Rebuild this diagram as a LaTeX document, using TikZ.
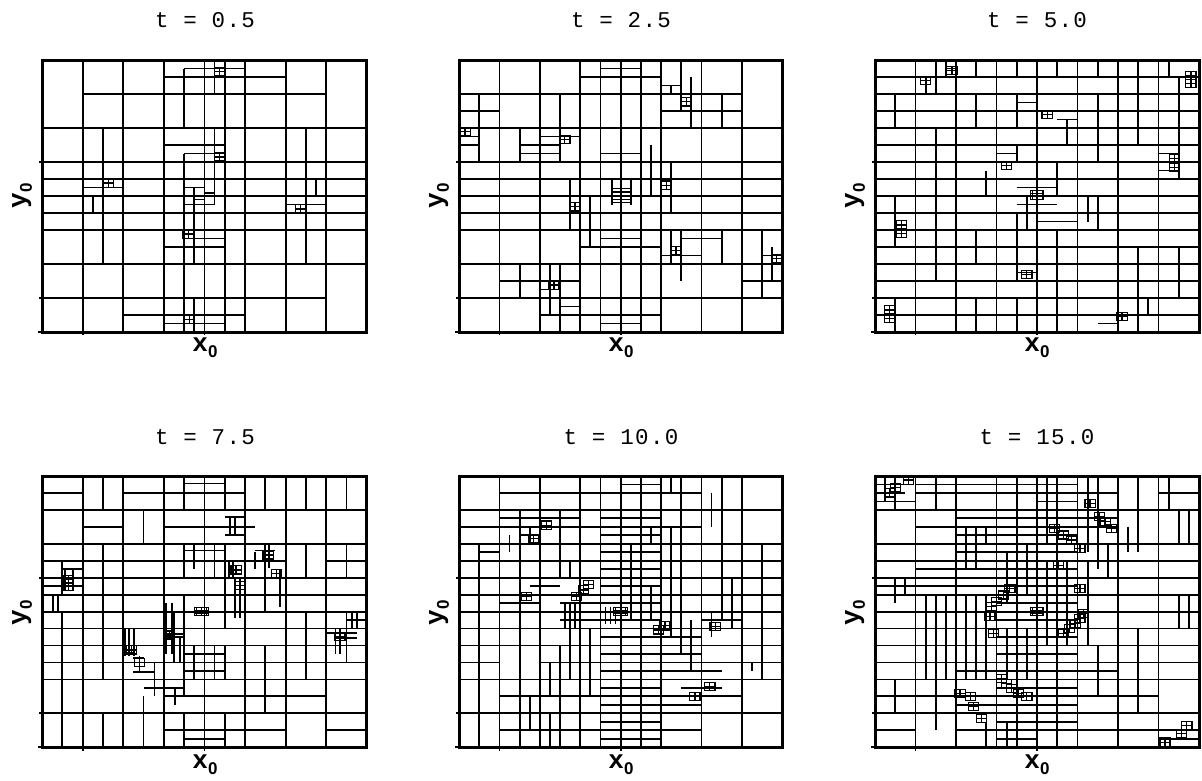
\documentclass[tikz,border=0pt]{standalone}
\usepackage{fontspec}
\newfontfamily\ttlfont[LetterSpace = 6]{Liberation Mono}
\newfontfamily\lblfont{Liberation Mono}
\newfontfamily\subfont{Liberation Sans}
% cell helpers, u to the right, v downwards (one unit = one coarse cell)
\newcommand{\hsh}[2]{\draw [line width = 1.2pt] (#1-0.125,#2-0.12) rectangle (#1+0.125,#2+0.12) (#1,#2-0.12) -- (#1,#2+0.12) (#1-0.125,#2) -- (#1+0.125,#2);}
\newcommand{\hq}[5][4]{\pgfmathtruncatemacro\nq{round((#5-(#4))*#1)}\foreach \k in {0,...,\nq}{\draw (#2,#4+\k/#1) -- (#3,#4+\k/#1);}}
\newcommand{\vq}[5][4]{\pgfmathtruncatemacro\nq{round((#3-(#2))*#1)}\foreach \k in {0,...,\nq}{\draw (#2+\k/#1,#4) -- (#2+\k/#1,#5);}}
\newcommand{\blob}[2]{\begin{scope}[fine]\hq[12]{#1-0.17}{#1+0.17}{#2-0.125}{#2+0.125}\vq[8]{#1-0.125}{#1+0.125}{#2-0.125}{#2+0.125}\draw (#1-0.17,#2-0.125) -- (#1-0.17,#2+0.125) (#1+0.17,#2-0.125) -- (#1+0.17,#2+0.125);\end{scope}}
\newcommand{\ticks}{\draw (0,3) -- (-0.08,3) (0,7) -- (-0.08,7) (0,8) -- (-0.1,8) (1,8) -- (1,8.1) (4,8) -- (4,8.1);}
\newcommand{\sub}{\raisebox{-6pt}{\fontsize{17}{17}\selectfont\subfont 0}}
\begin{document}
\begin{tikzpicture}[x = 1pt, y = -1pt, line width = 1.8pt,
	frame/.style = {line width = 3pt},
	fine/.style = {line width = 0.9pt},
	ttl/.style = {font = \fontsize{22.5}{27}\selectfont\ttlfont},
	lbl/.style = {font = \fontsize{26}{30}\selectfont\lblfont\bfseries, inner sep = 0pt}]
	\useasboundingbox (0,0) rectangle (1202,780);
	% titles and axis labels
	\foreach \n/\x/\y/\t in {1/205/20/0.5, 2/621/20/2.5, 3/1037/20/5.0, 4/205/437/7.5, 5/621/437/10.0, 6/1037/437/15.0}{
	\node [ttl] (t\n) at (\x,\y) {t = \t};
	}
	\foreach \n/\x/\y/\l in {1/205/348/42, 2/621/348/459, 3/1037/348/875, 4/205/765/42, 5/621/765/459, 6/1037/765/875}{
	\node [lbl] (xl\n) at (\x,\y) {x\sub};
	\node [lbl, rotate = 90] (yl\n) at (\l-20,\y-152) {y\sub};
	}
	% t = 0.5
	\begin{scope}[shift = {(42,60)}, xscale = 40.6, yscale = 34]
	\foreach \c in {1,...,7} {\draw (\c,0) -- (\c,8);}
	\foreach \c/\vs in {0/{2,3,3.5,4,4.5,5,6,7}, 1/{1,2,3,3.5,3.75,4,4.5,5,6,7}, 2/{1,2,3,3.5,4,4.5,5,6,7,7.5}, 3/{0.5,1,2,2.5,3,3.5,4,4.5,5,5.5,6,7,7.5,7.75}, 4/{0.5,1,2,3,3.5,4,4.5,5,6,7,7.5}, 5/{0.5,1,2,3,3.5,4,4.5,5,6,7}, 6/{1,2,3,3.5,4,4.5,5,6,7}, 7/{2,3,3.5,4,4.5,5,6}}{
	\foreach \v in \vs {\draw (\c,\v) -- (\c+1,\v);}
	}
	\foreach \v/\a/\b in {0.25/3.5/5, 2.75/3.5/4.5, 2.5/4/4.5, 3.75/3.5/4, 3.9/4/4.25, 4.1/3.75/4, 4.25/3.5/4.25, 4.25/6/7, 5.25/3.5/4.5, 5.5/4/4.5, 7.75/4/4.5}{
	\draw (\a,\v) -- (\b,\v);
	}
	\foreach \u/\a/\b in {1.5/2/6, 6.5/2/6, 3.5/0.25/2, 3.5/2.75/8, 4.5/0/8, 4.25/0/1, 4.25/2/4.25, 1.25/4/4.5, 6.75/3.5/4, 3.75/3.75/6, 3.75/7/8}{
	\draw (\u,\a) -- (\u,\b);
	}
	\foreach \u/\v in {4.38/0.34, 4.38/2.85, 1.63/3.62, 6.36/4.38, 3.6/5.12, 3.64/7.63}{\hsh{\u}{\v}}
	\ticks
	\draw [frame] (0,0) rectangle (8,8);
	\end{scope}
	% t = 2.5
	\begin{scope}[shift = {(459,60)}, xscale = 40.4, yscale = 34]
	\foreach \c in {1,...,7} {\draw (\c,0) -- (\c,8);}
	\foreach \c/\vs in {0/{1,1.5,2,3,3.5,4,4.5,5,6,7}, 1/{1,2,3,3.5,4,4.5,5,6,6.5,7}, 2/{1,2,2.25,3,3.5,4,4.5,5,6,6.5,7,7.5}, 3/{0.5,1,2,3,3.5,4,4.5,5,5.5,6,7,7.5}, 4/{0.5,1,2,3,3.5,4,4.5,5,5.5,6,7,7.5}, 5/{1,2,3,3.5,4,4.5,5,6,7}, 6/{1,2,3,3.5,4,4.5,5,6,7}, 7/{2,3,3.5,4,4.5,5,6,6.5,7}}{
	\foreach \v in \vs {\draw (\c,\v) -- (\c+1,\v);}
	}
	\foreach \v/\a/\b in {2.5/0/0.5, 2.25/0/0.5, 2.5/1.5/2.5, 2.75/1.5/2.5, 7.25/2.5/3, 6.75/2/2.5, 0.25/3.5/4.5, 2.75/3.5/4.5, 5.25/3.5/4.5, 7.75/3.5/4.5, 0.75/5/5.5, 1.5/5/7, 5.25/5.5/6.5, 5.75/5/6, 5.75/7.5/8, 3.78/3.78/4.25, 3.88/3.78/4.25, 4.1/3.78/4.25, 4.19/3.78/4.25}{
	\draw (\a,\v) -- (\b,\v);
	}
	\foreach \u/\a/\b in {0.5/1/3, 1.5/2/3, 1.5/6/7, 2.5/1/3, 2.5/6/8, 2.25/6/7.5, 3.5/0/8, 3.25/4/5.5, 2.75/3.5/5, 4.5/0/8, 4.75/2.5/4, 5.5/0/1.5, 5.5/5/6.5, 5.75/0.5/2, 5.25/0.75/1, 5.25/3/4.5, 5.25/5/6, 6.5/1/2, 6.5/5/6, 7.5/5/7, 7.75/5.5/6.5, 3.78/3.5/4.25, 4.25/3.5/4.25}{
	\draw (\u,\a) -- (\u,\b);
	}
	\foreach \u/\v in {0.15/2.11, 2.62/2.34, 2.35/6.62, 5.63/1.23, 5.37/5.6, 5.14/3.68, 2.87/4.32, 7.86/5.84}{\hsh{\u}{\v}}
	\ticks
	\draw [frame] (0,0) rectangle (8,8);
	\end{scope}
	% t = 5.0
	\begin{scope}[shift = {(875,60)}, xscale = 40.5, yscale = 34]
	\foreach \c in {1,...,7} {\draw (\c,0) -- (\c,8);}
	\foreach \v in {0.5,1,...,7.5} {\draw (0,\v) -- (8,\v);}
	\foreach \v/\a/\b in {0.25/1.75/2, 1.25/3.5/4, 1.75/4.5/5, 2.75/7/7.5, 2.75/3/3.5, 3.25/7/7.5, 4.75/4/5, 6.25/3.5/4, 7.75/5.5/6, 3.75/3.5/4.5, 4.25/3.5/4.5}{
	\draw (\a,\v) -- (\b,\v);
	}
	\foreach \u/\a/\b in {0.5/1/2, 0.5/4/5.5, 0.5/7/8, 1.5/0/1, 1.5/2/6.5, 2.5/0/0.5, 2.5/1/2, 2.5/5/6, 2.5/7/8, 3.5/0/0.5, 3.5/1/2, 3.5/2.5/3, 3.5/4.5/6.5, 3.5/7/8, 4.5/0/0.5, 4.5/3/4, 4.5/5/8, 5.5/0/0.5, 5.5/1/3, 5.5/4/5, 6.5/0/2.5, 6.5/5.5/8, 7.5/0.5/3.5, 7.5/5.5/7, 2.75/3.25/4, 4.75/1.75/2.5, 5.25/4/4.75, 3.75/4/5, 7.25/0/0.5, 1.25/0.5/1, 1.75/0/0.5, 6.75/7/7.5}{
	\draw (\u,\a) -- (\u,\b);
	}
	\blob{4}{3.97}
	\foreach \u/\v in {1.9/0.3, 1.25/0.6, 7.8/0.45, 7.8/0.7, 4.25/1.6, 3.25/3.1, 7.4/2.9, 7.4/3.15, 0.65/4.85, 0.65/5.1, 3.75/6.3, 0.35/7.35, 0.35/7.6, 6.1/7.55}{\hsh{\u}{\v}}
	\ticks
	\draw [frame] (0,0) rectangle (8,8);
	\end{scope}
	% t = 7.5
	\begin{scope}[shift = {(42,476)}, xscale = 40.6, yscale = 33.9]
	\foreach \c in {1,...,7} {\draw (\c,0) -- (\c,8);}
	\foreach \c/\vs in {0/{0.5,1,2,2.5,3,3.5,4,4.5,5,5.5,6,7}, 1/{1,1.5,2,2.5,3,3.5,4,4.5,5,5.5,6,7}, 2/{0.5,1,2,2.5,3,3.5,4,4.5,5,5.5,6,7}, 3/{0.5,1,1.5,2,2.5,3,3.5,4,4.5,5,5.5,6,6.5,7,7.5}, 4/{0.5,1,1.5,2,2.5,3,3.5,4,4.5,5,5.5,6,6.5,7,7.5}, 5/{1,2,2.5,3,3.5,4,4.5,5,5.5,6,6.5,7,7.5}, 6/{1,2,3,3.5,4,4.5,5,5.5,6,6.5,7}, 7/{1,2,2.5,3,3.5,4,4.5,5,5.5,6,7,7.5}}{
	\foreach \v in \vs {\draw (\c,\v) -- (\c+1,\v);}
	}
	\foreach \v/\a/\b in {0.22/3.5/4.5, 2.2/3.5/4.5, 2.75/0.5/1, 3.24/0/1, 3.0/0.5/1, 1.2/4.5/5, 1.5/4.5/5.25, 1.75/4.5/5, 2.2/5.25/5.75, 4.65/3/3.5, 4.75/3/3.5, 5.23/2/2.25, 5.38/2.25/2.5, 5.77/2.25/2.75, 6.26/2.5/3.5, 4.64/7/7.75, 4.79/7.25/7.75, 4.25/7.5/8, 5.25/3.5/4.5, 5.75/3.5/4.5, 7.75/3.5/4.5}{
	\draw (\a,\v) -- (\b,\v);
	}
	\foreach \u/\a/\b in {0.5/2.5/3.5, 0.5/4/8, 1.5/0/1, 1.5/2/6, 1.5/7/8, 2.5/1/2, 2.5/6.5/8, 3.5/0/1, 3.5/2/3, 3.5/3.5/6.5, 3.5/7/8, 4.5/0/1, 4.5/2/4.5, 4.5/5/6, 4.5/7/8, 5.5/0/1, 5.5/2/4, 5.5/5/7, 6.5/0/1, 6.5/2/3, 6.5/4/6, 7.5/0/1, 7.5/2/3, 7.5/4/5.5, 0.27/3.5/4, 0.39/3.5/4, 0.56/2.75/3.4, 0.76/2.75/3.4, 3.75/2/2.75, 3.05/3.75/5.25, 3.2/3.75/5.25, 3.25/4/5.5, 3.4/4.75/5.5, 2.05/4.5/5.3, 2.15/4.5/5.3, 2.27/4.5/5.3, 2.4/5.3/5.75, 2.77/5.5/6.5, 3.28/6.25/6.75, 4.25/2/3, 4.6/2.5/3, 4.7/2.5/3, 4.75/3/4.2, 4.87/3/4.2, 4.63/1.2/1.75, 4.75/1.2/1.75, 5.25/2.25/2.75, 5.6/2/2.7, 5.86/2.75/3.85, 7.23/4.5/5.25, 7.33/4.5/5.25, 7.63/4/4.5, 7.75/4/4.5, 3.75/5/6, 4.25/5/6}{
	\draw (\u,\a) -- (\u,\b);
	}
	\blob{3.93}{4.0}
	\foreach \u/\v in {0.66/3.05, 0.66/3.25, 3.14/4.69, 2.2/5.13, 4.78/2.77, 4.87/3.22, 5.57/2.33, 5.78/2.87, 7.34/4.74, 2.4/5.5}{\hsh{\u}{\v}}
	\ticks
	\draw [frame] (0,0) rectangle (8,8);
	\end{scope}
	% t = 10.0
	\begin{scope}[shift = {(459,476)}, xscale = 40.4, yscale = 33.9]
	\foreach \c in {1,...,7} {\draw (\c,0) -- (\c,8);}
	\foreach \c/\vs in {0/{1,1.5,2,2.5,3,3.5,4,4.5,5,5.5,6,7}, 1/{0.5,1,1.25,1.5,2,2.5,3,3.5,3.75,4,4.5,5,6,6.5,7,7.5}, 2/{0.5,1,1.25,1.5,2,2.5,3,3.5,4,4.5,5,5.5,6,6.5,7,7.5}, 3/{0.5,1,1.5,2,2.5,3,3.5,4,4.5,5,5.5,6,6.5,7,7.5}, 4/{0.25,0.5,1}, 5/{0.5,1,1.5,2,2.5,3,3.5,4,4.5,5,5.5,6,6.5,6.75,7,7.5}, 6/{1,2,2.5,3,3.5,4,4.5,5,5.5,6,6.5,7}, 7/{1,2,2.5,3,3.5,4,4.5,5,5.5,6,7}}{
	\foreach \v in \vs {\draw (\c,\v) -- (\c+1,\v);}
	}
	\hq{3.5}{5}{1.25}{7.75}
	\foreach \v/\a/\b in {2.25/0.5/1, 1.75/1.5/2, 3.25/1.75/2.5, 3.75/2.5/3.5, 4.25/2.5/3.5, 4.75/5/6, 5.25/5/6, 5.75/5/6.5, 6.25/5.5/6.5, 4.25/6/7}{
	\draw (\a,\v) -- (\b,\v);
	}
	\foreach \u/\a/\b in {0.5/2/8, 1.5/1/8, 2.5/1/3, 2.5/5/8, 3.5/0/8, 4.5/0/8, 5.5/0/5.25, 6.5/0/4.25, 7.5/2/6, 1.25/1.75/2.25, 1.75/1.5/2, 1.75/6.5/7.5, 2.25/5.5/6.5, 2.25/7/8, 2.75/2.5/3, 2.75/4.5/6, 3.25/4.5/6.5, 4.25/2/3.25, 4.75/1.5/2, 5.25/0/0.5, 5.25/1.5/4.25, 5.75/4.5/5.75, 6.25/0.5/1.5, 6.75/3/4.5, 7.25/5.5/5.75, 6.25/4/4.75}{
	\draw (\u,\a) -- (\u,\b);
	}
	\vq[8]{2.625}{3}{3.75}{4.5}
	\vq[8]{3.625}{3.875}{3.875}{4.375}
	\vq{4.25}{4.75}{3.25}{4.25}
	\vq{5.25}{5.75}{4.25}{4.75}
	\blob{4}{4}
	\foreach \u/\v in {2.17/1.45, 1.84/1.84, 1.67/3.56, 2.91/3.56, 3.08/3.36, 3.2/3.2, 4.93/4.54, 5.1/4.42, 6.34/4.44, 6.21/6.21, 5.84/6.51}{\hsh{\u}{\v}}
	\ticks
	\draw [frame] (0,0) rectangle (8,8);
	\end{scope}
	% t = 15.0
	\begin{scope}[shift = {(875,476)}, xscale = 40.5, yscale = 33.9]
	\foreach \c in {1,...,7} {\draw (\c,0) -- (\c,8);}
	\foreach \c/\vs in {0/{0.75,1,2,2.5,3,3.25,3.5,4,4.5,5,5.5,6,6.5,7,7.5}, 1/{0.25,0.5,1,1.5,2,2.5,2.75,3,3.25,3.5,4,4.5,5,5.5,6,6.5,7}, 2/{0.25,0.5,1,1.25,1.5,1.75,2,2.25,2.5,2.75,3,3.25,3.5,4,4.5,5,5.5,5.75,6,6.5,6.75,7,7.5}, 3/{0.25,0.5,1}, 4/{7.5}, 5/{0.5,1,1.25,1.5,2,2.5,3,3.5,4,4.5,5,5.5,5.75,6,6.5,7,7.5}, 6/{1,2,2.5,3,3.5,4,4.5,5,5.5,6,6.5,7,7.5}, 7/{0.5,1,2,2.5,3,3.5,4,4.5,5,5.5,6,7,7.5,7.75}}{
	\foreach \v in \vs {\draw (\c,\v) -- (\c+1,\v);}
	}
	\hq{3}{4}{1.25}{7.75}
	\hq{4}{5}{0.25}{7.25}
	\hq{0}{0.75}{0.25}{0.5}
	\foreach \u/\a/\b in {0.25/0/0.75, 0.5/0/1, 0.5/3/3.75, 0.5/6/7, 0.75/3/3.5, 1.5/0/1, 1.5/5/7.5, 2.25/1.5/2.75, 2.5/1.5/2.75, 2.75/1.5/2, 2.75/7.25/8, 3.25/2.25/3.75, 3.25/7.3/8, 3.5/0/8, 4.5/0/8, 4.25/0/2, 5.25/0/2.25, 5.5/0/2.75, 5.75/2/3, 6.25/1.5/2.25, 6.5/0/2.25, 6.5/4.5/7, 7.25/0/1, 7.5/1/2, 7.5/3.5/4.5, 7.75/1/2, 7.75/3.5/4.5, 5.5/5/6.5, 6/7.5/8}{
	\draw (\u,\a) -- (\u,\b);
	}
	\vq{1.25}{2.75}{3.5}{6}
	\vq{2.75}{3.75}{4.5}{6}
	\vq{4}{5.25}{2.5}{5}
	\vq{3.5}{4}{2}{3.5}
	\blob{4}{4}
	\foreach \u/\v in {0.82/0.12, 0.5/0.35, 0.35/0.5, 3.33/3.31, 3.17/3.51, 3.0/3.71, 2.88/3.85, 2.84/4.15, 2.92/4.64, 2.35/6.5, 2.43/6.8, 2.1/6.41, 2.63/7.15, 3.13/5.97, 3.25/6.12, 3.37/6.26, 3.54/6.41, 3.75/6.5, 4.44/1.54, 4.65/1.74, 4.85/1.89, 5.06/2.13, 5.55/1.2, 5.68/1.35, 5.84/1.54, 5.31/0.81, 4.53/2.63, 5.14/4.05, 5.06/4.2, 4.94/4.35, 4.81/4.49, 4.65/4.64, 5.06/3.31, 7.57/7.59, 7.16/7.85, 7.7/7.35}{\hsh{\u}{\v}}
	\ticks
	\draw [frame] (0,0) rectangle (8,8);
	\end{scope}
\end{tikzpicture}
\end{document}
